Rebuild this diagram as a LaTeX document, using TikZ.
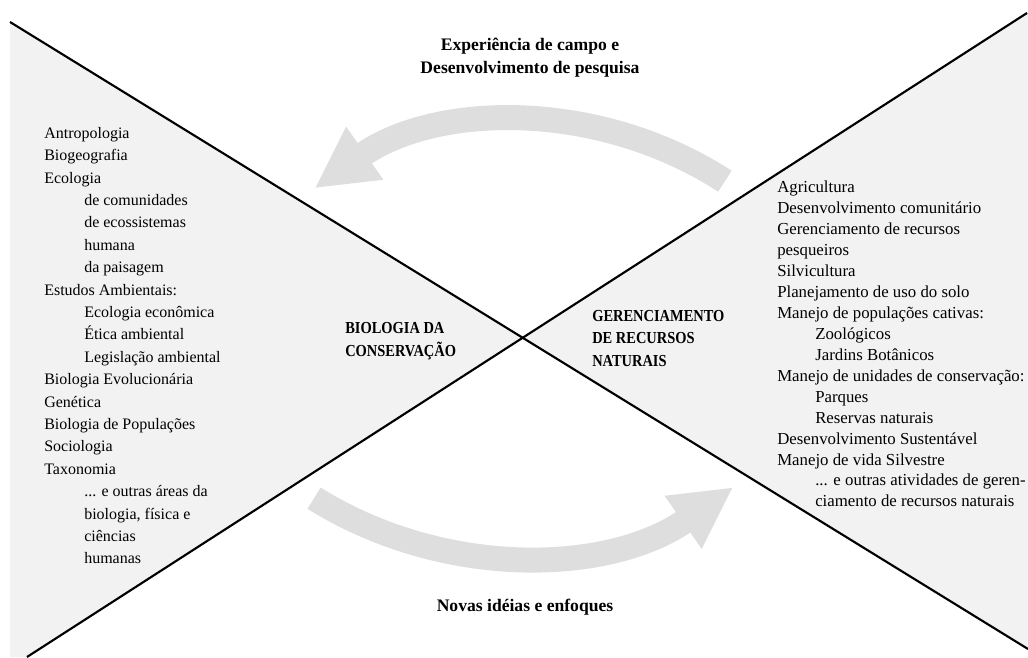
\documentclass[tikz,border=0pt]{standalone}
\usepackage{fontspec}
\setmainfont{Liberation Serif}
\newfontfamily\narrowbold[FakeStretch=0.86]{Liberation Serif}
\usetikzlibrary{arrows.meta}

\newcommand{\indL}{\hspace*{30pt}}
\newcommand{\indR}{\hspace*{28.5pt}}

\begin{document}
\begin{tikzpicture}[x=75pt, y=75pt,
    listtext/.style={align=left, anchor=north west, inner sep=0pt},
    boldlabel/.style={align=left, anchor=west, inner sep=0pt, font=\narrowbold\bfseries\fontsize{12.6}{17.2}\selectfont},
    flowlabel/.style={align=center, inner sep=0pt, font=\bfseries\fontsize{13.2}{17}\selectfont},
    bigarrow/.style={draw=arrowgray, line width=18.75pt, -{Triangle[length=46pt, width=45pt]}}]
    % colours
    \definecolor{papergray}{RGB}{242,242,242}
    \definecolor{arrowgray}{RGB}{222,222,222}

    \useasboundingbox (0,0) rectangle (10.28,6.57);

    % ends of the X
    \coordinate (tl) at (0.10,6.35);
    \coordinate (br) at (10.28,0.08);
    \coordinate (tr) at (10.27,6.44);
    \coordinate (bl) at (0.27,0);
    \coordinate (mid) at (intersection of tl--br and tr--bl);

    % shaded side fields
    \fill[papergray] (tl) -- (mid) -- (bl) -- (tl |- bl) -- cycle;
    \fill[papergray] (tr) -- (mid) -- (br) -- (10.28,6.44) -- cycle;

    % the X
    \draw[line width=1.6pt] (tl) -- (br);
    \draw[line width=1.6pt] (tr) -- (bl);

    % curved arrows
    \draw[bigarrow] (5.25,1.68) ++(57:3.67) arc[start angle=57, end angle=125, radius=3.67];
    \draw[bigarrow] (5.154,4.811) ++(238:3.80) arc[start angle=238, end angle=305, radius=3.80];

    % flow labels
    \node[flowlabel] (field) at (5.30,5.99) {Experiência de campo e\\Desenvolvimento de pesquisa};
    \node[flowlabel] (ideas) at (5.25,0.50) {Novas idéias e enfoques};

    % central labels
    \node[boldlabel] (bio) at (3.45,3.155) {BIOLOGIA DA\\CONSERVAÇÃO};
    \node[boldlabel] (ger) at (5.92,3.185) {GERENCIAMENTO\\DE RECURSOS\\NATURAIS};

    % left list
    \node[listtext, font=\fontsize{12}{16.8}\selectfont] (areas) at (0.44,5.30) {%
        Antropologia\\
        Biogeografia\\
        Ecologia\\
        \indL de comunidades\\
        \indL de ecossistemas\\
        \indL humana\\
        \indL da paisagem\\
        Estudos Ambientais:\\
        \indL Ecologia econômica\\
        \indL Ética ambiental\\
        \indL Legislação ambiental\\
        Biologia Evolucionária\\
        Genética\\
        Biologia de Populações\\
        Sociologia\\
        Taxonomia\\
        \indL ... e outras áreas da\\
        \indL biologia, física e\\
        \indL ciências\\
        \indL humanas};

    % right list
    \node[listtext, font=\fontsize{12.6}{15.7}\selectfont] (activities) at (7.77,4.76) {%
        Agricultura\\
        Desenvolvimento comunitário\\
        Gerenciamento de recursos\\
        pesqueiros\\
        Silvicultura\\
        Planejamento de uso do solo\\
        Manejo de populações cativas:\\
        \indR Zoológicos\\
        \indR Jardins Botânicos\\
        Manejo de unidades de conservação:\\
        \indR Parques\\
        \indR Reservas naturais\\
        Desenvolvimento Sustentável\\
        Manejo de vida Silvestre\\
        \indR ... e outras atividades de geren-\\
        \indR ciamento de recursos naturais};

\end{tikzpicture}
\end{document}
